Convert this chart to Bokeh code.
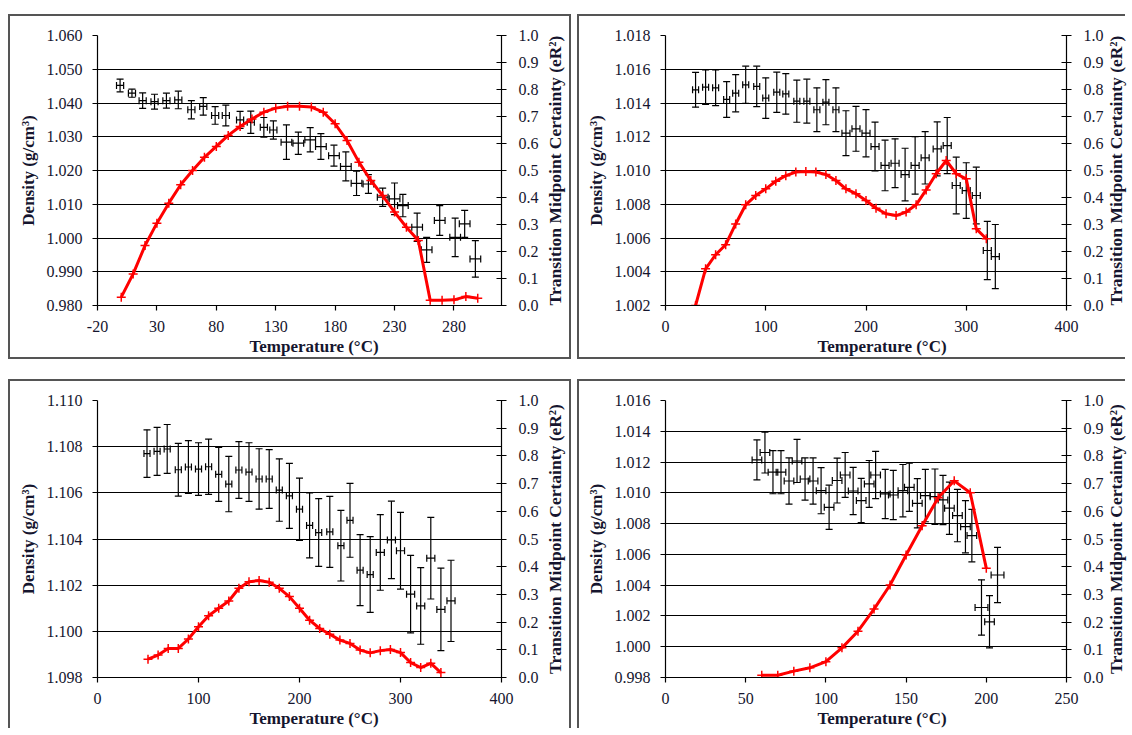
import math
from bokeh.plotting import figure
from bokeh.models import (Range1d, LinearAxis, FixedTicker, PrintfTickFormatter,
                          ColumnDataSource, Whisker, TeeHead, Spacer, Title)
from bokeh.layouts import row, column
from bokeh.embed import file_html
from bokeh.resources import INLINE

FONT = "'Liberation Serif', 'Times New Roman', serif"
TXT = "#15152e"

# ---------------- Panel A (top-left) ----------------
a_temp = [-1, 9, 18, 28, 38, 48, 59, 69, 79, 88, 100, 109, 120, 128, 139, 149, 159, 168,
          179, 189, 198, 208, 220, 230, 237, 249, 257, 268, 281, 289, 298]
a_dens = [1.0452, 1.0429, 1.0407, 1.0404, 1.0407, 1.0409, 1.0380, 1.0390, 1.0363, 1.0363,
          1.0350, 1.0343, 1.0328, 1.0320, 1.0284, 1.0281, 1.0291, 1.0271, 1.0244, 1.0212,
          1.0162, 1.0160, 1.0121, 1.0116, 1.0096, 1.0032, 0.9965, 1.0052, 1.0002, 1.0042, 0.9938]
a_dens_err = [0.0019, 0.0012, 0.0023, 0.0022, 0.0022, 0.0026, 0.0027, 0.0026, 0.0026, 0.0031,
              0.0025, 0.0033, 0.0029, 0.0027, 0.0051, 0.0033, 0.0036, 0.0038, 0.0031, 0.0043,
              0.0036, 0.0028, 0.0027, 0.0047, 0.0033, 0.0042, 0.0037, 0.0044, 0.0057, 0.0040, 0.0054]
a_temp_err = [3, 3, 3, 3, 3, 3, 3, 3, 3, 3, 3, 3, 3, 3, 4.5, 4.5, 4.5, 4.5, 4.5, 4.5,
              4.5, 4.5, 4.5, 4.5, 4.5, 4.5, 4.5, 4.5, 4.5, 4.5, 4.5]
a_cert_temp = [0, 10, 20, 30, 40, 50, 60, 70, 80, 90, 100, 110, 120, 130, 140, 150, 160, 170,
               180, 190, 200, 210, 220, 230, 240, 250, 260, 270, 280, 290, 300]
a_cert = [0.031, 0.117, 0.222, 0.305, 0.379, 0.447, 0.500, 0.549, 0.589, 0.630, 0.663, 0.691,
          0.716, 0.731, 0.738, 0.738, 0.735, 0.716, 0.673, 0.611, 0.531, 0.463, 0.407, 0.346,
          0.290, 0.241, 0.019, 0.019, 0.021, 0.033, 0.027]
a_xticks = [-20, 30, 80, 130, 180, 230, 280]
a_yticks = [0.980, 0.990, 1.000, 1.010, 1.020, 1.030, 1.040, 1.050, 1.060]

# ---------------- Panel B (top-right) ----------------
b_temp = [30, 40, 50, 61, 70, 80, 91, 100, 111, 120, 131, 141, 151, 160, 170, 180, 190, 200,
          209, 219, 229, 239, 249, 259, 271, 281, 290, 300, 310, 321, 329]
b_dens = [1.01478, 1.01494, 1.01490, 1.01421, 1.01458, 1.01508, 1.01498, 1.01429, 1.01464,
          1.01454, 1.01411, 1.01411, 1.01360, 1.01405, 1.01360, 1.01221, 1.01247, 1.01221,
          1.01142, 1.01030, 1.01043, 1.00976, 1.01030, 1.01075, 1.01128, 1.01148, 1.00911,
          1.00881, 1.00852, 1.00526, 1.00490]
b_dens_err = [0.00103, 0.00102, 0.00106, 0.00106, 0.00110, 0.00110, 0.00120, 0.00120, 0.00119,
              0.00120, 0.00125, 0.00130, 0.00130, 0.00134, 0.00130, 0.00133, 0.00133, 0.00140,
              0.00145, 0.00150, 0.00145, 0.00156, 0.00170, 0.00155, 0.00160, 0.00166, 0.00168,
              0.00165, 0.00168, 0.00173, 0.00190]
b_temp_err = [3, 3, 3, 3, 3, 3, 3, 3, 3, 3, 3, 3, 3, 3, 3, 4, 4, 4, 4, 4, 4, 4, 4, 4,
              4, 4, 4, 4, 4, 4, 4]
b_cert_temp = [30, 40, 50, 60, 70, 80, 90, 100, 110, 120, 130, 140, 150, 160, 170, 180, 190,
               200, 210, 220, 230, 240, 250, 260, 270, 280, 290, 300, 310, 320]
b_cert = [0.000, 0.136, 0.188, 0.225, 0.302, 0.373, 0.407, 0.432, 0.460, 0.481, 0.494, 0.496,
          0.494, 0.485, 0.463, 0.432, 0.414, 0.389, 0.360, 0.340, 0.333, 0.346, 0.373, 0.428,
          0.488, 0.537, 0.488, 0.469, 0.284, 0.247]
b_xticks = [0, 100, 200, 300, 400]
b_yticks = [1.002, 1.004, 1.006, 1.008, 1.010, 1.012, 1.014, 1.016, 1.018]

# ---------------- Panel C (bottom-left) ----------------
c_temp = [49, 59, 69, 80, 90, 100, 110, 120, 130, 140, 150, 160, 170, 180, 190, 200, 210,
          219, 230, 241, 250, 260, 270, 280, 291, 300, 310, 320, 330, 340, 350]
c_dens = [1.10770, 1.10780, 1.10790, 1.10700, 1.10712, 1.10703, 1.10713, 1.10680, 1.10638,
          1.10699, 1.10690, 1.10660, 1.10660, 1.10612, 1.10587, 1.10529, 1.10459, 1.10428,
          1.10431, 1.10371, 1.10481, 1.10265, 1.10246, 1.10342, 1.10396, 1.10349, 1.10161,
          1.10110, 1.10317, 1.10095, 1.10132]
c_dens_err = [0.00103, 0.00104, 0.00106, 0.00114, 0.00114, 0.00114, 0.00120, 0.00117, 0.00120,
              0.00123, 0.00127, 0.00131, 0.00127, 0.00135, 0.00141, 0.00135, 0.00141, 0.00147,
              0.00154, 0.00153, 0.00160, 0.00154, 0.00164, 0.00164, 0.00168, 0.00166, 0.00168,
              0.00166, 0.00177, 0.00179, 0.00176]
c_temp_err = [3, 3, 3, 3, 3, 3, 3, 3, 3, 3, 3, 3, 3, 3, 3, 3, 3, 3, 3, 3, 3, 3, 3, 4,
              4, 4, 4, 4, 4, 4, 4]
c_cert_temp = [50, 60, 70, 80, 90, 100, 110, 120, 130, 140, 150, 160, 170, 180, 190, 200, 210,
               220, 230, 240, 250, 260, 270, 280, 290, 300, 310, 320, 330, 340]
c_cert = [0.066, 0.081, 0.105, 0.105, 0.139, 0.183, 0.223, 0.250, 0.276, 0.322, 0.346, 0.350,
          0.344, 0.322, 0.292, 0.250, 0.207, 0.177, 0.156, 0.135, 0.123, 0.099, 0.089, 0.097,
          0.101, 0.090, 0.054, 0.036, 0.051, 0.018]
c_xticks = [0, 100, 200, 300, 400]
c_yticks = [1.098, 1.100, 1.102, 1.104, 1.106, 1.108, 1.110]

# ---------------- Panel D (bottom-right) ----------------
d_temp = [57, 62, 67, 72, 77, 82, 87, 92, 97, 102, 107, 112, 117, 122, 127, 131, 137, 142,
          148, 152, 157, 162, 168, 173, 177, 182, 187, 191, 197, 202, 207]
d_dens = [1.01214, 1.01262, 1.01134, 1.01134, 1.01077, 1.01207, 1.01090, 1.01077, 1.01014,
          1.00906, 1.01080, 1.01116, 1.01012, 1.00950, 1.01058, 1.01116, 1.00993, 1.00986,
          1.01014, 1.01036, 1.00932, 1.00982, 1.00975, 1.00954, 1.00900, 1.00852, 1.00780,
          1.00722, 1.00255, 1.00162, 1.00466]
d_dens_err = [0.00130, 0.00133, 0.00140, 0.00140, 0.00150, 0.00140, 0.00137, 0.00150, 0.00150,
              0.00144, 0.00146, 0.00146, 0.00154, 0.00144, 0.00152, 0.00154, 0.00160, 0.00160,
              0.00170, 0.00157, 0.00160, 0.00170, 0.00180, 0.00160, 0.00170, 0.00170, 0.00170,
              0.00170, 0.00180, 0.00170, 0.00180]
d_temp_err = [3, 3, 3, 3, 3, 3, 3, 3, 3, 3, 3, 3, 3, 3, 3, 3, 3, 3, 3, 3, 3, 3, 3, 3,
              3, 3, 3, 3, 4, 3, 4]
d_cert_temp = [60, 70, 80, 90, 100, 110, 120, 130, 140, 150, 160, 170, 180, 190, 200]
d_cert = [0.008, 0.008, 0.023, 0.035, 0.057, 0.107, 0.167, 0.247, 0.334, 0.442, 0.548, 0.649,
          0.710, 0.667, 0.394]
d_xticks = [0, 50, 100, 150, 200, 250]
d_yticks = [0.998, 1.000, 1.002, 1.004, 1.006, 1.008, 1.010, 1.012, 1.014, 1.016]

cert_ticks = [0.0, 0.1, 0.2, 0.3, 0.4, 0.5, 0.6, 0.7, 0.8, 0.9, 1.0]

X_TITLE = "Temperature (°C)"
Y_TITLE = "Density (g/cm³)"
R_TITLE = "Transition Midpoint Certainty (eR²)"

B = "2px solid #555555"


def style_title(ax, size):
    ax.axis_label_text_font = FONT
    ax.axis_label_text_font_size = size
    ax.axis_label_text_font_style = "bold"
    ax.axis_label_text_color = TXT


def make_panel(width, height, css, borders, xr, xticks, yr, yticks,
               temp, dens, dens_err, temp_err, ctemp, cert):
    bl, br, bt, bb = borders
    p = figure(width=width, height=height, output_backend="svg", toolbar_location=None,
               x_range=Range1d(*xr), y_range=Range1d(*yr),
               min_border_left=bl, min_border_right=br, min_border_top=bt,
               min_border_bottom=bb, background_fill_color="white",
               border_fill_color="white", outline_line_color=None)
    p.styles = css
    p.extra_y_ranges = {"cert": Range1d(0, 1)}

    p.xgrid.visible = False
    p.ygrid.ticker = FixedTicker(ticks=yticks)
    p.ygrid.grid_line_color = "black"
    p.ygrid.grid_line_width = 1.2

    xa = p.xaxis[0]
    xa.ticker = FixedTicker(ticks=xticks)
    xa.formatter = PrintfTickFormatter(format="%d")
    ya = p.yaxis[0]
    ya.ticker = FixedTicker(ticks=yticks)
    ya.formatter = PrintfTickFormatter(format="%.3f")
    ya.axis_label = Y_TITLE
    ya.major_label_standoff = 10
    ya.axis_label_standoff = 6
    xa.major_label_standoff = 10

    ra = LinearAxis(y_range_name="cert", ticker=FixedTicker(ticks=cert_ticks),
                    formatter=PrintfTickFormatter(format="%.1f"))
    ra.major_tick_in = 5
    ra.major_label_standoff = 12
    p.add_layout(ra, "right")

    for ax in (xa, ya, ra):
        ax.axis_line_color = "black"
        ax.axis_line_width = 1.2
        ax.major_tick_line_color = "black"
        ax.major_tick_line_width = 1.2
        ax.minor_tick_line_color = None
        ax.major_tick_out = 5
        ax.major_label_text_font = FONT
        ax.major_label_text_font_size = "16px"
        ax.major_label_text_color = TXT
        style_title(ax, "17px")
    xa.major_tick_in = 0
    ya.major_tick_in = 0

    p.add_layout(Title(text=X_TITLE, align="left", offset=152, standoff=0,
                       text_font=FONT, text_font_size="17px", text_font_style="bold",
                       text_color=TXT), "below")

    src = ColumnDataSource(dict(
        x=temp, y=dens,
        ylo=[d - e for d, e in zip(dens, dens_err)],
        yhi=[d + e for d, e in zip(dens, dens_err)],
        xlo=[t - e for t, e in zip(temp, temp_err)],
        xhi=[t + e for t, e in zip(temp, temp_err)],
    ))
    for dim, base, lo, hi in (("height", "x", "ylo", "yhi"), ("width", "y", "xlo", "xhi")):
        w = Whisker(source=src, base=base, lower=lo, upper=hi, dimension=dim,
                    line_color="black", line_width=1.2, level="underlay",
                    upper_head=TeeHead(size=7, line_color="black", line_width=1.2),
                    lower_head=TeeHead(size=7, line_color="black", line_width=1.2))
        p.add_layout(w)

    p.line(ctemp, cert, y_range_name="cert", line_color="#ff0000", line_width=3)
    p.scatter(ctemp, cert, y_range_name="cert", marker="cross", size=9,
              line_color="#ff0000", line_width=1.5)
    return p


def make_title_strip(width, height, css, mbl, bt, bb):
    # narrow strip whose (bare) left axis carries the right-hand title, read bottom-to-top
    t = figure(width=width, height=height, output_backend="svg", toolbar_location=None,
               x_range=Range1d(0, 1), y_range=Range1d(0, 1),
               x_axis_location=None, y_axis_location="left",
               min_border_left=mbl, min_border_right=0, min_border_top=bt,
               min_border_bottom=bb, outline_line_color=None,
               background_fill_color="white", border_fill_color="white")
    t.styles = css
    t.grid.visible = False
    ax = t.yaxis[0]
    ax.ticker = FixedTicker(ticks=[])
    ax.axis_line_color = None
    ax.major_tick_line_color = None
    ax.minor_tick_line_color = None
    ax.major_tick_out = 0
    ax.major_tick_in = 0
    ax.major_label_standoff = 0
    ax.axis_label = R_TITLE
    ax.axis_label_standoff = 0
    style_title(ax, "17.5px")
    return t


p1 = make_panel(531, 345, {"border-left": B, "border-top": B, "border-bottom": B},
                (87, 38, 19, 56), (-20, 320), a_xticks, (0.980, 1.060), a_yticks,
                a_temp, a_dens, a_dens_err, a_temp_err, a_cert_temp, a_cert)
t1 = make_title_strip(32, 345, {"border-right": B, "border-top": B, "border-bottom": B},
                      25, 19, 56)

p2 = make_panel(527, 345, {"border-left": B, "border-top": B, "border-bottom": B},
                (86, 38, 19, 56), (0, 400), b_xticks, (1.002, 1.018), b_yticks,
                b_temp, b_dens, b_dens_err, b_temp_err, b_cert_temp, b_cert)
t2 = make_title_strip(21, 345, {"border-top": B, "border-bottom": B}, 19, 19, 56)

p3 = make_panel(531, 349, {"border-left": B, "border-top": B},
                (87, 38, 19, 53), (0, 400), c_xticks, (1.098, 1.110), c_yticks,
                c_temp, c_dens, c_dens_err, c_temp_err, c_cert_temp, c_cert)
t3 = make_title_strip(32, 349, {"border-right": B, "border-top": B}, 25, 19, 53)

p4 = make_panel(527, 349, {"border-left": B, "border-top": B},
                (86, 38, 19, 53), (0, 250), d_xticks, (0.998, 1.016), d_yticks,
                d_temp, d_dens, d_dens_err, d_temp_err, d_cert_temp, d_cert)
t4 = make_title_strip(21, 349, {"border-top": B}, 19, 19, 53)

layout = column(Spacer(height=14),
                row(Spacer(width=8), p1, t1, Spacer(width=6), p2, t2),
                Spacer(height=20),
                row(Spacer(width=8), p3, t3, Spacer(width=6), p4, t4))

open("out.html", "w").write(file_html(layout, INLINE))
